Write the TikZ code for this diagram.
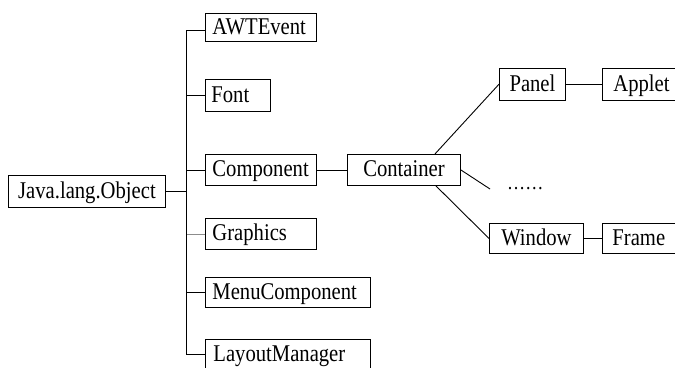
\documentclass[tikz,border=0pt]{standalone}
\usepackage{fontspec}
\setmainfont{Liberation Serif}[FakeStretch=0.86]
\begin{document}
\begin{tikzpicture}[x=1pt,y=-1pt,
  bx/.style={draw, line width=0.9pt, inner ysep=0pt, anchor=north west, text height=17.5pt, text depth=3.5pt, font=\fontsize{24}{28}\selectfont},
  lk/.style={line width=0.9pt},
  lkg/.style={line width=0.9pt, draw=black!45}]
\useasboundingbox (0,0) rectangle (675,367);
\clip (0,0) rectangle (675,367);
% nodes
\node[bx, minimum width=157, minimum height=32, inner xsep=8pt, text width=141pt, align=center] (obj) at (8,175) {Java.lang.Object};
\node[bx, minimum width=111, minimum height=28, inner xsep=7pt, text width=97pt, align=left] (awt) at (205,13) {AWTEvent};
\node[bx, minimum width=65, minimum height=32, inner xsep=6pt, text width=53pt, align=left] (font) at (205,79) {Font};
\node[bx, minimum width=111, minimum height=31, inner xsep=7pt, text width=97pt, align=left] (comp) at (205,154) {Component};
\node[bx, minimum width=111, minimum height=31, inner xsep=7pt, text width=97pt, align=left] (gra) at (205,218) {Graphics};
\node[bx, minimum width=165, minimum height=30, inner xsep=7pt, text width=151pt, align=left] (menu) at (205,277) {MenuComponent};
\node[bx, minimum width=165, minimum height=30, inner xsep=8pt, text width=149pt, align=left] (lay) at (205,339) {LayoutManager};
\node[bx, minimum width=113, minimum height=31, inner xsep=6pt, text width=101pt, align=center] (cont) at (347,154) {Container};
\node[bx, minimum width=66, minimum height=31.5, inner xsep=4pt, text width=58pt, align=center] (panel) at (499,68) {Panel};
\node[bx, minimum width=100, minimum height=31.5, inner xsep=11pt, text width=78pt, align=left] (app) at (602,68) {Applet};
\node[bx, minimum width=94, minimum height=30, inner xsep=4pt, text width=86pt, align=center] (win) at (489,223) {Window};
\node[bx, minimum width=100, minimum height=30, inner xsep=10pt, text width=80pt, align=left] (frame) at (602,223) {Frame};
\node[inner xsep=17pt, inner ysep=0pt, anchor=west, font=\fontsize{21}{24}\selectfont] (dots) at (490,189) {\textellipsis\textellipsis};
% connectors
\draw[lk] (obj.east) -- ++(21,0);
\draw[lk] ([yshift=-3pt]awt.west) -- ++(-19,0) |- (lay.west);
\draw[lk] (font.west) -- ++(-19,0);
\draw[lk] (comp.west) -- ++(-19,0);
\draw[lkg] (gra.west) -- ++(-18.5,0);
\draw[lk] (menu.west) -- ++(-19,0);
\draw[lk] (comp.east) -- (cont.west);
\draw[lk] ([xshift=31pt]cont.north) -- (panel.west);
\draw[lk] (cont.east) -- (dots.west);
\draw[lk] ([xshift=32pt]cont.south) -- (win.west);
\draw[lk] (panel.east) -- (app.west);
\draw[lk] (win.east) -- (frame.west);
\end{tikzpicture}
\end{document}
